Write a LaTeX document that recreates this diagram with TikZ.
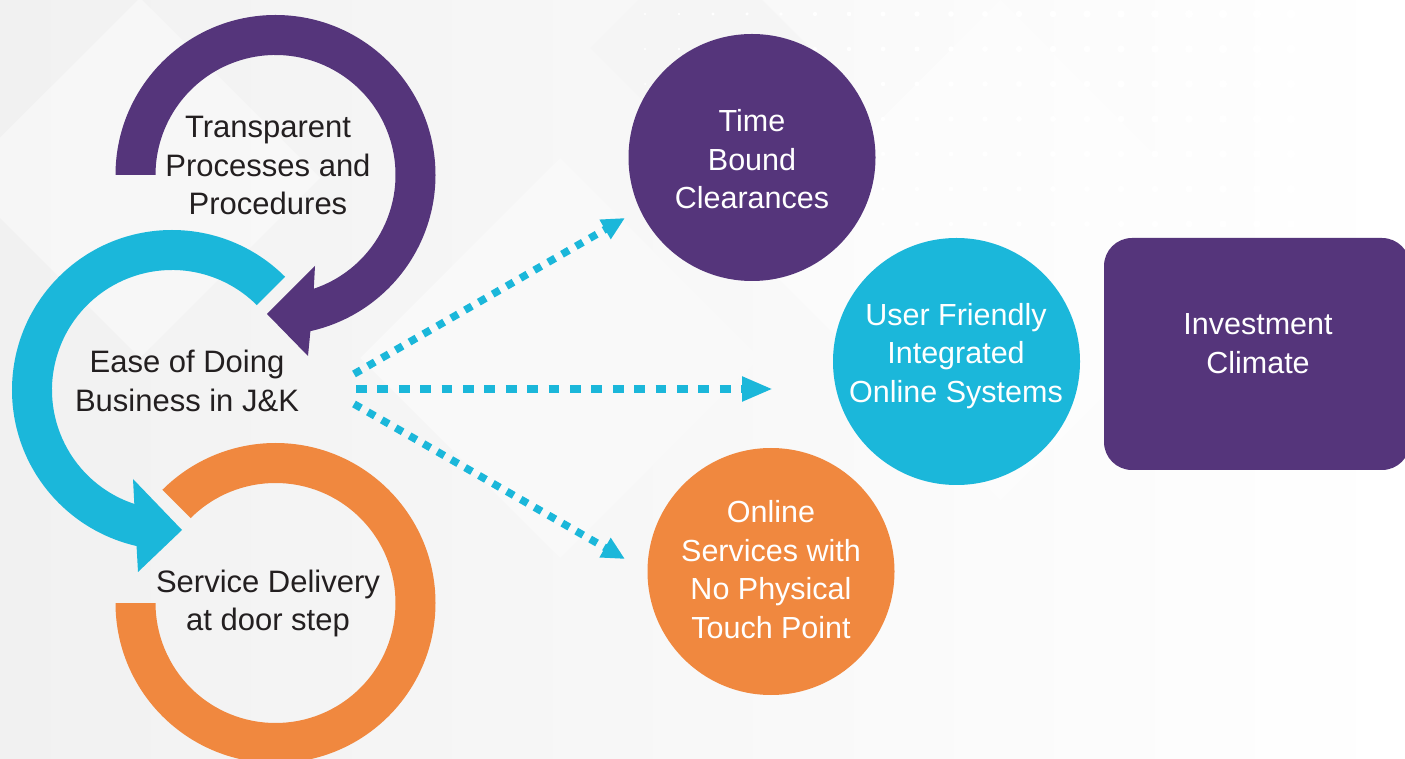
\documentclass[tikz,border=0pt]{standalone}
\usepackage{fontspec}
\setmainfont{Liberation Sans}
\usetikzlibrary{calc,arrows.meta}
\definecolor{jkpurple}{HTML}{55357B}
\definecolor{jkcyan}{HTML}{1BB7DA}
\definecolor{jkorange}{HTML}{F0883F}
\definecolor{jkdark}{HTML}{231F20}
\definecolor{bggray}{HTML}{F1F1F1}
\tikzset{
  ringfill/.style={fill=#1, draw=none},
  darktext/.style={text=jkdark, align=center, inner sep=0pt, font=\fontsize{31}{38.5}\selectfont},
  whitetext/.style={text=white, align=center, inner sep=0pt, font=\fontsize{30.5}{38.5}\selectfont},
  bubble/.style={circle, fill=#1, draw=none, minimum size=247pt, inner sep=0pt},
  dotdiag/.style={draw=jkcyan, line width=7.5pt, dash pattern=on 8pt off 8pt,
    -{Triangle[length=23pt,width=21pt]}},
  dotmid/.style={draw=jkcyan, line width=8.3pt, dash pattern=on 10.7pt off 10.7pt,
    -{Triangle[length=31pt,width=23pt]}},
  bgdiamond/.style={fill=#1, draw=none}
}
\begin{document}
\begin{tikzpicture}[x=1pt,y=1pt]
\useasboundingbox (0,0) rectangle (1405,758);
\clip (0,0) rectangle (1405,758);
% background
\shade[left color=bggray, right color=white] (0,0) rectangle (1405,758);
\fill[bgdiamond=gray!8] (700,820) -- (810,710) -- (700,600) -- (590,710) -- cycle;
\fill[bgdiamond=gray!5] (560,600) -- (760,400) -- (560,200) -- (360,400) -- cycle;
\fill[bgdiamond=white, opacity=0.4] (140,760) -- (320,580) -- (140,400) -- (-40,580) -- cycle;
\fill[bgdiamond=white, opacity=0.4] (1000,758) -- (1250,508) -- (1000,258) -- (750,508) -- cycle;
\foreach \i in {0,...,19} {
  \foreach \j in {0,...,6} {
    \pgfmathsetmacro{\dx}{645+34*\i}
    \pgfmathsetmacro{\dy}{744-35*\j}
    \pgfmathsetmacro{\rr}{1.2+0.18*\i-0.1*\j}
    \ifdim \rr pt>0.5pt \fill[white] (\dx,\dy) circle[radius=\rr pt]; \fi
  }
}
% centres of the three rings
\coordinate (P) at (275.5,583);
\coordinate (C) at (172,368);
\coordinate (O) at (275.5,155);
% orange ring
\fill[ringfill=jkorange] ($(O)+(180:160pt)$) arc[start angle=180,end angle=495,radius=160pt]
  -- ($(O)+(495:120pt)$) arc[start angle=495,end angle=180,radius=120pt] -- cycle;
% cyan ring with arrow head
\fill[ringfill=jkcyan] ($(C)+(45:160pt)$) arc[start angle=45,end angle=257.2,radius=160pt]
  -- (138,186) -- (182,228) -- (133,279)
  -- ($(C)+(251.7:120pt)$) arc[start angle=251.7,end angle=45,radius=120pt] -- cycle;
% purple ring with arrow head
\fill[ringfill=jkpurple] ($(P)+(180:160pt)$) arc[start angle=180,end angle=-77.4,radius=160pt]
  -- (308,402) -- (267,444) -- (315,492)
  -- ($(P)+(-71.4:120pt)$) arc[start angle=-71.4,end angle=180,radius=120pt] -- cycle;
% ring texts
\node[darktext] (tpp) at (268,592.5) {Transparent\\Processes and\\Procedures};
\node[darktext] (ease) at (187,377) {Ease of Doing\\Business in J\&K};
\node[darktext] (sdd) at (268,154.5) {Service Delivery\\at door step};
% bubbles
\node[bubble=jkpurple] (tbc) at (752,600.5) {};
\node[whitetext] (tbct) at (752,598.5) {Time\\Bound\\Clearances};
\node[bubble=jkcyan] (ufi) at (956.5,396.5) {};
\node[whitetext] (ufit) at (956,402) {User Friendly\\Integrated\\Online Systems};
\node[bubble=jkorange] (osp) at (771,186.5) {};
\node[whitetext] (ospt) at (771,188.5) {Online\\Services with\\No Physical\\Touch Point};
\node[fill=jkpurple, draw=none, rounded corners=28pt, minimum width=306pt, minimum height=232pt, inner sep=0pt] (inv) at (1257,404) {};
\node[whitetext] (invt) at (1258,414.5) {Investment\\Climate};
% dotted connectors
\coordinate (s1) at (354,384);
\coordinate (e1) at (625,540);
\coordinate (s2) at (356,369);
\coordinate (e2) at (773,369);
\coordinate (s3) at (354,354);
\coordinate (e3) at (625,199);
\draw[dotdiag] (s1) -- (e1);
\draw[dotmid] (s2) -- (e2);
\draw[dotdiag] (s3) -- (e3);
\end{tikzpicture}
\end{document}
